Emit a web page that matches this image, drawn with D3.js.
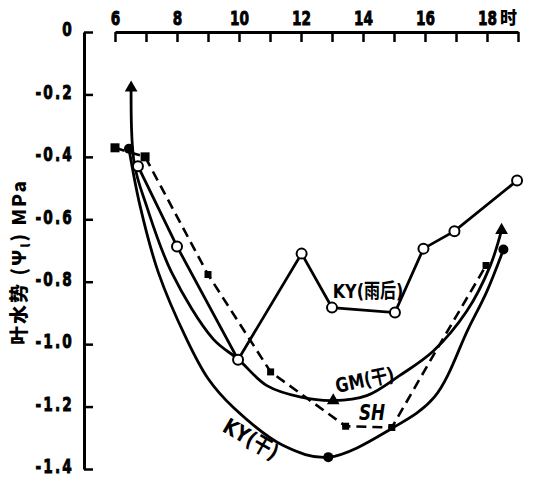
<!DOCTYPE html>
<html>
<head>
<meta charset="utf-8">
<script src="https://cdn.jsdelivr.net/npm/d3@7"></script>
<style>
  body { margin: 0; background: #fff; }
  svg text { font-family: "DejaVu Sans", sans-serif; font-weight: bold; }
</style>
</head>
<body>
<div></div>
<script>
// hours on the top axis, leaf water potential (MPa) on the left
let hourTicks = [6, 7, 8, 9, 10, 11, 12, 13, 14, 15, 16, 17, 18, 19]
let hourLabels = [6, 8, 10, 12, 14, 16, 18]
let yTicks = [0, -0.2, -0.4, -0.6, -0.8, -1.0, -1.2, -1.4]

// KY(雨后) - open circles, straight segments
let kyRainX = [6.74, 8.0, 9.97, 12.02, 13.0, 15.03, 15.95, 16.95, 18.97]
let kyRainY = [-0.43, -0.687, -1.05, -0.71, -0.883, -0.899, -0.694, -0.638, -0.476]

// SH - dashed, small filled squares
let shX = [6.0, 6.97, 9.0, 11.02, 13.44, 14.93, 16.32, 17.97]
let shY = [-0.371, -0.40, -0.777, -1.089, -1.263, -1.267, -1.027, -0.748]
let shMark = [1, 1, 1, 1, 1, 1, 0, 1]

// GM(干) - smooth curve, triangles
let gmX = [6.52, 6.62, 7.02, 7.83, 9.17, 9.97, 10.9, 12.0, 13.04, 14.12, 15.19, 16.27, 17.35, 18.1, 18.47]
let gmY = [-0.179, -0.42, -0.558, -0.771, -0.984, -1.048, -1.133, -1.17, -1.181, -1.165, -1.1, -1.022, -0.894, -0.75, -0.635]
let gmMark = [1, 0, 0, 0, 0, 0, 0, 0, 1, 0, 0, 0, 0, 0, 1]

// KY(干) - smooth curve, filled circles
let kyDryX = [6.45, 6.81, 7.4, 8.31, 9.0, 9.82, 11.43, 12.88, 14.93, 16.3, 17.4, 18.0, 18.53]
let kyDryY = [-0.374, -0.558, -0.771, -0.984, -1.11, -1.203, -1.325, -1.362, -1.27, -1.17, -0.95, -0.83, -0.697]
let kyDryMark = [1, 0, 0, 0, 0, 0, 0, 1, 0, 0, 0, 0, 1]

let width = 541
let height = 478

let svg = d3.select("div")
    .append("svg")
    .attr("width", width)
    .attr("height", height)

let x = d3.scaleLinear().domain([6, 19]).range([115, 518])
let y = d3.scaleLinear().domain([0, -1.4]).range([32, 469])

function pts(xs, ys) {
    return xs.map((v, i) => ({x: v, y: ys[i], i: i}))
}

// top axis
let xAxis = svg.append("g")
    .attr("transform", "translate(0," + y(0) + ")")
    .call(d3.axisTop(x)
        .tickValues(hourTicks)
        .tickSizeInner(-10)
        .tickSizeOuter(0)
        .tickPadding(8)
        .tickFormat(d => hourLabels.includes(d) ? d : ""))
xAxis.select(".domain").attr("stroke-width", 3)
xAxis.selectAll(".tick line").attr("stroke-width", 2.5)
xAxis.selectAll(".tick text").attr("font-size", 19).attr("fill", "#000")
    .attr("stroke", "#000").attr("stroke-width", 0.9)
    .attr("y", -7).attr("dy", 0)
    .attr("transform", "scale(0.72,1)")
svg.append("text")
    .attr("x", x(18) + 13)
    .attr("y", y(0) - 8)
    .attr("font-size", 17)
    .style("font-family", "'Noto Sans CJK SC', sans-serif")
    .style("font-weight", "900")
    .text("时")

// left axis
let yAxis = svg.append("g")
    .attr("transform", "translate(84,0)")
    .call(d3.axisLeft(y)
        .tickValues(yTicks)
        .tickSizeInner(-9)
        .tickSizeOuter(0)
        .tickPadding(14)
        .tickFormat(d => d === 0 ? "0" : d3.format(".1f")(d).replace("−", "-")))
yAxis.select(".domain").attr("stroke-width", 3)
yAxis.selectAll(".tick line").attr("stroke-width", 2.5)
yAxis.selectAll(".tick text").attr("font-size", 19).attr("fill", "#000")
    .attr("stroke", "#000").attr("stroke-width", 0.9)
    .attr("letter-spacing", 3)
    .attr("dy", "0.2em")
    .attr("transform", "scale(0.72,1)")

// y label
let yl = svg.append("text")
    .attr("transform", "translate(26,262) rotate(-90)")
    .attr("text-anchor", "middle")
    .attr("font-size", 19)
    .attr("letter-spacing", 2)
    .style("font-family", "'Noto Sans CJK SC', sans-serif")
    .style("font-weight", "900")
yl.append("tspan").text("叶水势 (Ψ")
yl.append("tspan").attr("font-size", 12).attr("dy", 4).text("l")
yl.append("tspan").attr("dy", -4).text(")  MPa")

let lineLinear = d3.line().x(d => x(d.x)).y(d => y(d.y))
let lineSmooth = d3.line().x(d => x(d.x)).y(d => y(d.y)).curve(d3.curveCatmullRom.alpha(0.5))

let plot = svg.append("g")

// KY(干)
plot.append("path")
    .datum(pts(kyDryX, kyDryY))
    .attr("d", lineSmooth)
    .attr("fill", "none").attr("stroke", "#000").attr("stroke-width", 2.8)

// GM(干)
plot.append("path")
    .datum(pts(gmX, gmY))
    .attr("d", lineSmooth)
    .attr("fill", "none").attr("stroke", "#000").attr("stroke-width", 2.8)

// SH
plot.append("path")
    .datum(pts(shX, shY))
    .attr("d", lineLinear)
    .attr("fill", "none").attr("stroke", "#000").attr("stroke-width", 2.6)
    .attr("stroke-dasharray", "10,6")

// KY(雨后)
plot.append("path")
    .datum(pts(kyRainX, kyRainY))
    .attr("d", lineLinear)
    .attr("fill", "none").attr("stroke", "#000").attr("stroke-width", 2.8)

// markers
plot.selectAll(".kyDry")
    .data(pts(kyDryX, kyDryY).filter(d => kyDryMark[d.i]))
    .enter().append("circle")
    .attr("cx", d => x(d.x)).attr("cy", d => y(d.y))
    .attr("r", 5).attr("fill", "#000")

plot.selectAll(".gm")
    .data(pts(gmX, gmY).filter(d => gmMark[d.i]))
    .enter().append("path")
    .attr("transform", d => "translate(" + x(d.x) + "," + y(d.y) + ")")
    .attr("d", d3.symbol().type(d3.symbolTriangle).size(70))
    .attr("fill", "#000")

plot.selectAll(".sh")
    .data(pts(shX, shY).filter(d => shMark[d.i]))
    .enter().append("rect")
    .attr("x", d => x(d.x) - (d.i < 2 ? 4.5 : 3.5))
    .attr("y", d => y(d.y) - (d.i < 2 ? 4.5 : 3.5))
    .attr("width", d => d.i < 2 ? 9 : 7)
    .attr("height", d => d.i < 2 ? 9 : 7)
    .attr("fill", "#000")

plot.selectAll(".kyRain")
    .data(pts(kyRainX, kyRainY))
    .enter().append("circle")
    .attr("cx", d => x(d.x)).attr("cy", d => y(d.y))
    .attr("r", 5).attr("fill", "#fff").attr("stroke", "#000").attr("stroke-width", 2)

// series labels
function label(txt, xv, yv, rot, size, italic) {
    svg.append("text")
        .attr("transform", "translate(" + x(xv) + "," + y(yv) + ") rotate(" + rot + ") scale(0.8,1)")
        .attr("text-anchor", "middle")
        .attr("dy", "0.35em")
        .attr("font-size", size)
        .style("font-style", italic ? "italic" : "normal")
        .style("font-family", "'DejaVu Sans', 'Noto Sans CJK SC', sans-serif")
        .style("font-weight", "bold")
        .text(txt)
}
label("KY(雨后)", 14.16, -0.831, 0, 20, false)
label("GM(干)", 14.06, -1.115, -12, 20, false)
label("SH", 14.29, -1.221, 0, 21, true)
label("KY(干)", 10.39, -1.304, 30, 22, false)
</script>
</body>
</html>
